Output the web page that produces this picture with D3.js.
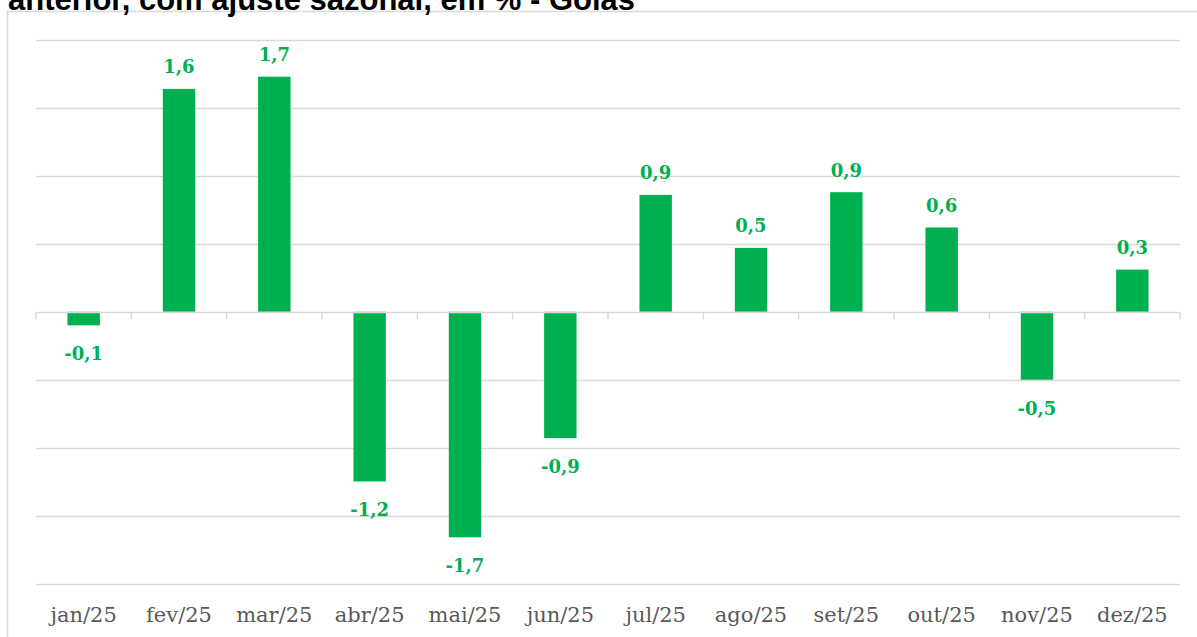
<!DOCTYPE html>
<html>
<head>
<meta charset="utf-8">
<script src="https://cdn.jsdelivr.net/npm/d3@7"></script>
<style>
  html, body { margin: 0; padding: 0; background: #fff; }
  svg { display: block; }
</style>
</head>
<body>
<svg id="chart" width="1197" height="637"></svg>
<script>
const titleText = "anterior, com ajuste sazonal, em % - Goiás";
const categories = ["jan/25","fev/25","mar/25","abr/25","mai/25","jun/25","jul/25","ago/25","set/25","out/25","nov/25","dez/25"];
const values = [-0.10, 1.64, 1.73, -1.249, -1.66, -0.93, 0.86, 0.47, 0.88, 0.62, -0.50, 0.31];
const yTicks = [-2, -1.5, -1, -0.5, 0, 0.5, 1, 1.5, 2];

const svg = d3.select("#chart");
const green = "#00B050";
const grid = "#d9d9d9";

// frame
svg.append("rect")
  .attr("x", 7.5).attr("y", 11.5)
  .attr("width", 1197).attr("height", 700)
  .attr("fill", "none").attr("stroke", grid).attr("stroke-width", 1.5);

// title (only last line visible, as in the reference)
svg.append("text")
  .attr("x", 8).attr("y", 10)
  .attr("font-family", "Liberation Sans, Arial, sans-serif")
  .attr("font-weight", "bold")
  .attr("font-size", 31)
  .attr("fill", "#000")
  .text(titleText);

const left = 36, right = 1180;
const x = d3.scaleBand().domain(categories).range([left, right]).paddingInner(0.66).paddingOuter(0.33);
const y = d3.scaleLinear().domain([-2, 2]).range([583.5, 40]);

// gridlines
svg.append("g").selectAll("line")
  .data(yTicks.filter(d => d !== 0))
  .join("line")
  .attr("x1", left).attr("x2", right)
  .attr("y1", d => Math.round(y(d)) + 0.5).attr("y2", d => Math.round(y(d)) + 0.5)
  .attr("stroke", grid).attr("stroke-width", 1.5);

// bars
svg.append("g").selectAll("rect")
  .data(values)
  .join("rect")
  .attr("x", (d, i) => x(categories[i]))
  .attr("width", x.bandwidth())
  .attr("y", d => Math.min(y(d), y(0)))
  .attr("height", d => Math.abs(y(d) - y(0)))
  .attr("fill", green);

// zero axis with ticks at band boundaries
const zeroY = Math.round(y(0)) + 0.5;
const axisG = svg.append("g");
axisG.append("line")
  .attr("x1", left).attr("x2", right)
  .attr("y1", zeroY).attr("y2", zeroY)
  .attr("stroke", grid).attr("stroke-width", 1.5);
const step = x.step();
const boundaries = d3.range(categories.length + 1).map(i => left + i * step);
axisG.selectAll("line.tick")
  .data(boundaries)
  .join("line")
  .attr("class", "tick")
  .attr("x1", d => d).attr("x2", d => d)
  .attr("y1", zeroY).attr("y2", zeroY + 7)
  .attr("stroke", grid).attr("stroke-width", 1.5);

// data labels
const fmt = v => d3.format(".1f")(v).replace(".", ",").replace("−", "-");
svg.append("g").selectAll("text")
  .data(values)
  .join("text")
  .attr("x", (d, i) => x(categories[i]) + x.bandwidth() / 2)
  .attr("y", d => d >= 0 ? y(d) - 15.5 : y(d) + 35)
  .attr("text-anchor", "middle")
  .attr("font-family", "DejaVu Serif, serif")
  .attr("font-weight", "bold")
  .attr("font-size", 18)
  .attr("fill", green)
  .text(d => fmt(d));

// category labels
svg.append("g").selectAll("text")
  .data(categories)
  .join("text")
  .attr("x", d => x(d) + x.bandwidth() / 2)
  .attr("y", 622)
  .attr("text-anchor", "middle")
  .attr("font-family", "DejaVu Serif, serif")
  .attr("font-size", 21)
  .attr("fill", "#595959")
  .text(d => d);
</script>
</body>
</html>
